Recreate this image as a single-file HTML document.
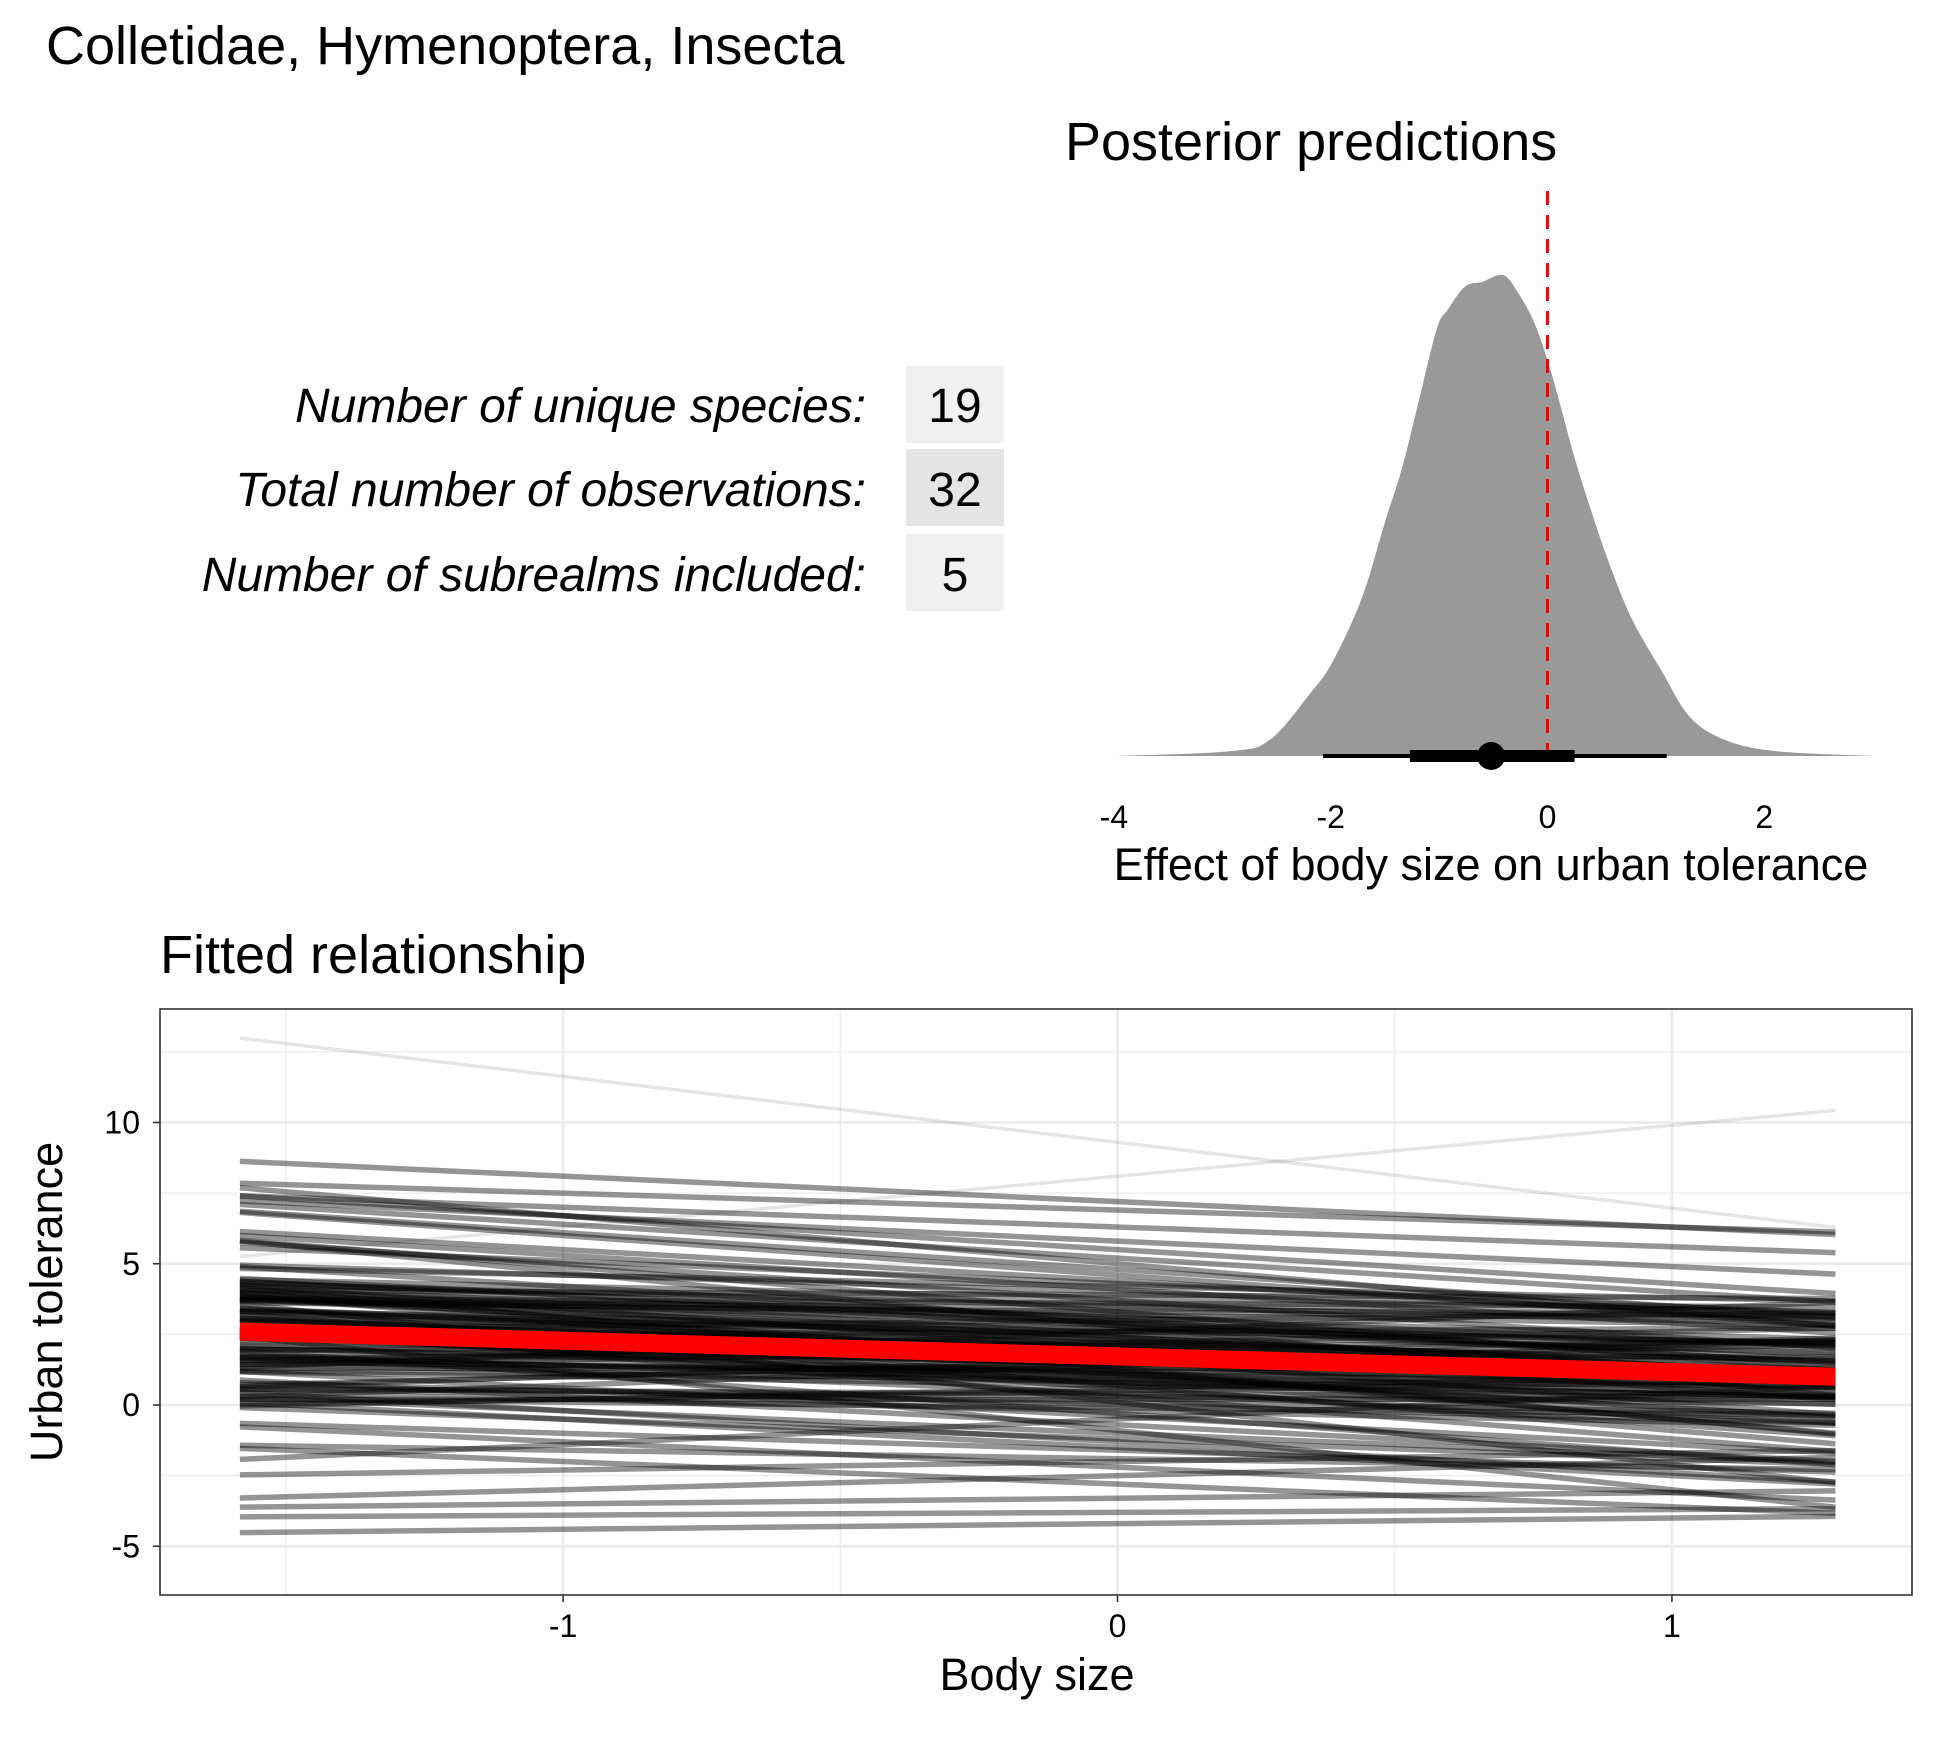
<!DOCTYPE html>
<html><head><meta charset="utf-8">
<style>
body{margin:0;background:#fff;}
svg{display:block;font-family:"Liberation Sans",Arial,sans-serif;}
</style></head>
<body>
<svg id="chart" width="1950" height="1740" viewBox="0 0 1950 1740" xmlns="http://www.w3.org/2000/svg">
  <rect width="1950" height="1740" fill="#fff"/>
  <text x="46" y="64" font-size="54" fill="#000">Colletidae, Hymenoptera, Insecta</text>

  <g font-size="48">
    <rect x="906" y="366" width="98" height="77" fill="#f0f0f0"/>
    <rect x="906" y="449" width="98" height="77" fill="#e4e4e4"/>
    <rect x="906" y="534" width="98" height="77" fill="#f0f0f0"/>
    <text x="866" y="422" text-anchor="end" font-style="italic">Number of unique species:</text>
    <text x="866" y="506" text-anchor="end" font-style="italic">Total number of observations:</text>
    <text x="866" y="591" text-anchor="end" font-style="italic">Number of subrealms included:</text>
    <text x="955" y="422" text-anchor="middle">19</text>
    <text x="955" y="506" text-anchor="middle">32</text>
    <text x="955" y="591" text-anchor="middle">5</text>
  </g>

  <g id="posterior">
    <text x="1065" y="160" font-size="54">Posterior predictions</text>
  </g>
  <g id="fitted">
    <text x="160" y="973" font-size="54">Fitted relationship</text>
  </g>
</svg>
<script>
// ---- Posterior density data ----
const densX = [-4.0,-2.93,-2.56,-2.19,-1.98,-1.71,-1.50,-1.34,-1.18,-1.02,-0.92,-0.76,-0.60,-0.41,-0.28,-0.12,0.04,0.25,0.41,0.57,0.78,1.05,1.31,1.63,2.11,3.01];
const densY = [0,0.01,0.034,0.13,0.197,0.33,0.486,0.60,0.745,0.889,0.928,0.976,0.986,1.0,0.966,0.90,0.793,0.62,0.505,0.40,0.284,0.178,0.082,0.034,0.01,0];
const postTicks = [-4,-2,0,2];
const intervalThin = [-2.07, 1.10];
const intervalThick = [-1.27, 0.25];
const pointEst = [-0.52];
const refLine = [0];

// ---- Fitted lines data ----
const xRange = [-1.583, 1.295];
const intercepts = [1.7,2.1,1.2,0.8,2.6,3.1,1.5,0.3,2.9,1.9,
-0.4,1.1,2.4,3.6,0.6,1.8,2.2,-1.0,4.1,1.4,
0.9,2.7,1.6,3.3,-0.2,2.0,1.3,4.6,0.1,2.5,
1.0,3.0,-1.6,1.9,2.8,0.4,3.8,1.5,-0.7,2.3,
5.2,0.7,1.8,2.6,-2.2,3.4,1.2,0.0,2.1,4.3,
1.6,-1.3,2.9,0.5,3.7,1.7,-0.1,2.4,5.8,0.9,
1.4,3.2,-2.8,2.0,0.2,4.0,1.1,2.7,-0.9,3.5,
1.9,6.3,0.6,2.2,-1.9,1.3,3.9,0.8,2.5,-3.3,
1.0,4.8,2.1,-0.5,3.1,1.6,6.9,0.3,2.8,-1.2,
1.5,4.4,-2.5,2.3,0.7,3.6,1.8,-3.8,5.5,1.2,
2.0,-0.3,3.3,1.4,7.2,0.1,2.6,-1.5,4.2,1.7,
0.4,3.0,-2.0,2.2,5.0,1.1,-4.2,2.9,0.8,1.9,9.3,8.1];
const slopes = [-0.5,-0.8,-0.2,-1.1,0.1,-0.6,-0.4,-1.5,-0.7,0.3,
-1.0,-0.3,-0.9,-0.1,-1.3,-0.5,0.4,-0.8,-1.2,-0.6,
-0.2,-0.7,0.6,-1.6,-0.4,-0.9,0.0,-1.4,-0.3,-0.5,
-1.1,0.2,-0.6,-0.8,-1.9,-0.1,-0.4,0.5,-1.0,-0.7,
-1.2,-0.3,-0.6,0.8,-0.9,-0.2,-1.7,-0.5,0.1,-0.8,
-0.4,-1.1,-0.6,0.3,-1.3,-0.7,-0.2,-1.0,-0.9,-0.5,
0.7,-0.3,-0.8,-1.4,0.0,-0.6,-1.2,-0.4,-2.1,-0.5,
-0.9,-0.7,0.4,-1.0,-0.3,-1.8,-0.1,-0.6,-1.1,0.2,
-0.5,-1.3,-0.4,0.9,-0.8,-1.5,-0.6,-0.2,-1.0,-0.7,
-0.3,-1.1,0.5,-0.9,-1.6,-0.4,-0.8,0.1,-1.2,-0.5,
-0.6,-1.4,-0.2,-0.7,-0.9,-2.2,-0.3,-1.0,-0.4,0.0,
-0.8,-1.2,0.3,-0.5,-1.7,-0.6,0.2,-1.0,-0.4,-0.7,-2.33,1.8];
const meanLine = [1.72, -0.556];
const xTicks = [-1,0,1];
const xMinor = [-1.5,-0.5,0.5];
const yTicks = [-5,0,5,10];
const yMinor = [-2.5,2.5,7.5,12.5];

const NS = "http://www.w3.org/2000/svg";
function mk(tag, attrs, parent){const e=document.createElementNS(NS,tag);for(const k in attrs)e.setAttribute(k,attrs[k]);parent.appendChild(e);return e;}

// posterior axes
const pX = v => 1547.5 + v*108.4;
const pY = f => 756 - f*481;
const post = document.getElementById('posterior');
const pts = densX.map((x,i)=>[pX(x),pY(densY[i])]);
let d = 'M'+pts[0][0]+','+pts[0][1];
for(let i=0;i<pts.length-1;i++){
  const p0=pts[Math.max(0,i-1)],p1=pts[i],p2=pts[i+1],p3=pts[Math.min(pts.length-1,i+2)];
  const c1=[p1[0]+(p2[0]-p0[0])/6,p1[1]+(p2[1]-p0[1])/6];
  const c2=[p2[0]-(p3[0]-p1[0])/6,p2[1]-(p3[1]-p1[1])/6];
  d+=' C'+c1[0]+','+Math.min(c1[1],756)+' '+c2[0]+','+Math.min(c2[1],756)+' '+p2[0]+','+p2[1];
}
d += ' Z';
const dens = mk('path',{d:d,fill:'#999999'},post);


const ref = mk('line',{x1:pX(refLine[0]),x2:pX(refLine[0]),y1:191,y2:756,stroke:'#ff0000','stroke-width':3,'stroke-dasharray':'14,10'},post);


const thin = mk('line',{x1:pX(intervalThin[0]),x2:pX(intervalThin[1]),y1:756,y2:756,stroke:'#000','stroke-width':4},post);


const thick = mk('line',{x1:pX(intervalThick[0]),x2:pX(intervalThick[1]),y1:756,y2:756,stroke:'#000','stroke-width':12},post);


const pt = mk('circle',{cx:pX(pointEst[0]),cy:756,r:14,fill:'#000'},post);


postTicks.forEach(t=>{
  const tx = mk('text',{x:pX(t),y:828,'font-size':32,'text-anchor':'middle',fill:'#000'},post);
  tx.textContent = t;
  
  
});
const pxt = mk('text',{x:1491,y:880,'font-size':45,'text-anchor':'middle'},post);
pxt.textContent='Effect of body size on urban tolerance';



// fitted panel
const fX = v => 1117.5 + v*554.4;
const fY = v => 1405 - v*28.25;
const fit = document.getElementById('fitted');
const L=160,R=1912,T=1009,B=1595;
const clip = mk('clipPath',{id:'pclip'},fit);
mk('rect',{x:L,y:T,width:R-L,height:B-T},clip);
xMinor.forEach(v=>{const g=mk('line',{x1:fX(v),x2:fX(v),y1:T,y2:B,stroke:'#ebebeb','stroke-width':1.3},fit);

});
yMinor.forEach(v=>{const g=mk('line',{x1:L,x2:R,y1:fY(v),y2:fY(v),stroke:'#ebebeb','stroke-width':1.3,'clip-path':'url(#pclip)'},fit);

});
xTicks.forEach(v=>{const g=mk('line',{x1:fX(v),x2:fX(v),y1:T,y2:B,stroke:'#ebebeb','stroke-width':2.7},fit);

});
yTicks.forEach(v=>{const g=mk('line',{x1:L,x2:R,y1:fY(v),y2:fY(v),stroke:'#ebebeb','stroke-width':2.7},fit);

});
intercepts.forEach((a,i)=>{
  const b = slopes[i];
  const outer = i>=intercepts.length-2;
  const ln = mk('line',{x1:fX(xRange[0]),y1:fY(a+b*xRange[0]),x2:fX(xRange[1]),y2:fY(a+b*xRange[1]),stroke:'#000','stroke-opacity':(outer?0.1:0.42),'stroke-width':(outer?3.5:5.5),'clip-path':'url(#pclip)'},fit);
  
  
});
const ml = mk('line',{x1:fX(xRange[0]),y1:fY(meanLine[0]+meanLine[1]*xRange[0]),x2:fX(xRange[1]),y2:fY(meanLine[0]+meanLine[1]*xRange[1]),stroke:'#ff0000','stroke-width':18},fit);


const border = mk('rect',{x:L,y:T,width:R-L,height:B-T,fill:'none',stroke:'#333','stroke-width':1.6},fit);


xTicks.forEach(v=>{
  const tk=mk('line',{x1:fX(v),x2:fX(v),y1:B,y2:B+7,stroke:'#333','stroke-width':1.6},fit);
  
  
  const t=mk('text',{x:fX(v),y:1637,'font-size':32,'text-anchor':'middle',fill:'#000'},fit);
  t.textContent=v;
  
  
});
yTicks.forEach(v=>{
  const tk=mk('line',{x1:L-7,x2:L,y1:fY(v),y2:fY(v),stroke:'#333','stroke-width':1.6},fit);
  
  
  const t=mk('text',{x:140,y:fY(v)+11,'font-size':32,'text-anchor':'end',fill:'#000'},fit);
  t.textContent=v;
  
  
});
const xt=mk('text',{x:1037,y:1690,'font-size':45,'text-anchor':'middle'},fit);
xt.textContent='Body size';


const yt=mk('text',{x:0,y:0,'font-size':45,'text-anchor':'middle',transform:'translate(62,1302) rotate(-90)'},fit);
yt.textContent='Urban tolerance';


</script>
</body></html>
